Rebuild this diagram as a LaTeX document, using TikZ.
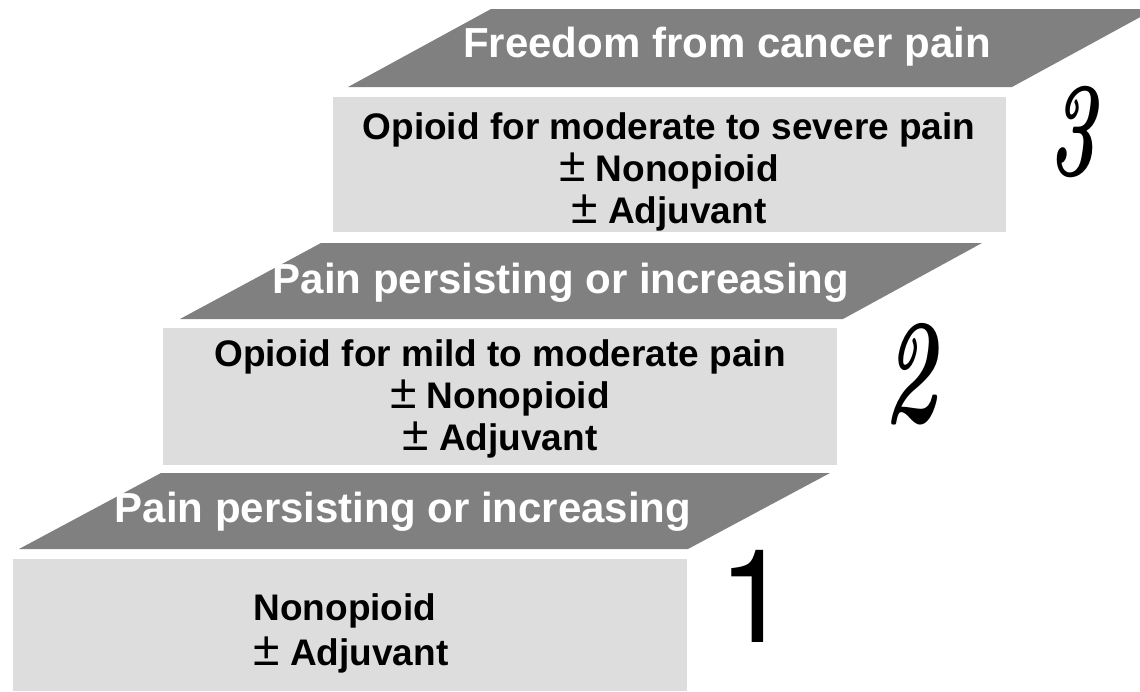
\documentclass[tikz,border=0pt]{standalone}
\usepackage{fontspec}
\setmainfont{Liberation Sans}
\newfontfamily\numsans{TeX Gyre Heros}
\newfontfamily\numital{Latin Modern Roman}
\definecolor{risergray}{HTML}{DDDDDD}
\definecolor{treadgray}{HTML}{808080}
\newcommand{\plusminus}{\scalebox{1.3}{\mdseries ±}}
\begin{document}
\begin{tikzpicture}[x=1pt,y=-1pt,
  riser/.style={fill=risergray, draw=none},
  tread/.style={fill=treadgray, draw=none},
  treadtext/.style={text=white, font=\fontsize{42}{50}\selectfont\bfseries, anchor=base, inner sep=0pt},
  boxtext/.style={text=black, font=\fontsize{37}{42}\selectfont\bfseries, anchor=base, inner sep=0pt},
  stepnum/.style={text=black, anchor=base, inner sep=0pt},
  ]
\useasboundingbox (0,0) rectangle (1140,691);
\clip (0,0) rectangle (1140,691);
% step 1
\fill[riser] (13,559) rectangle (687,691);
\fill[tread] (19,549) -- (688,549) -- (830,473) -- (161,473) -- cycle;
% step 2
\fill[riser] (163,328) rectangle (837,465);
\fill[tread] (180,319) -- (843,319) -- (982,243) -- (321,243) -- cycle;
% step 3
\fill[riser] (333,97) rectangle (1006,232);
\fill[tread] (348,87) -- (1012,87) -- (1155,9) -- (491,9) -- cycle;
% tread texts
\node[treadtext] (t3) at (727,57) {Freedom from cancer pain};
\node[treadtext] (t2) at (561,293) {Pain persisting or increasing};
\node[treadtext] (t1) at (403,522) {Pain persisting or increasing};
% riser texts
\node[boxtext] (b3a) at (669,139) {Opioid for moderate to severe pain};
\node[boxtext] (b3b) at (669,181) {\plusminus\ Nonopioid};
\node[boxtext] (b3c) at (669,223) {\plusminus\ Adjuvant};
\node[boxtext] (b2a) at (500,366) {Opioid for mild to moderate pain};
\node[boxtext] (b2b) at (500,408) {\plusminus\ Nonopioid};
\node[boxtext] (b2c) at (500,450) {\plusminus\ Adjuvant};
\node[boxtext] (b1a) at (345,620) {Nonopioid};
\node[boxtext] (b1b) at (351,665) {\plusminus\ Adjuvant};
% step numbers
\node[stepnum] (n1) at (755,642) {\numsans\fontsize{130}{130}\selectfont 1};
\node[stepnum] (n2) at (910,422) {\scalebox{0.6}[1]{\numital\bfseries\itshape\fontsize{150}{150}\selectfont 2}};
\node[stepnum] (n3) at (1072,175) {\scalebox{0.6}[1]{\numital\bfseries\itshape\fontsize{135}{135}\selectfont 3}};
\end{tikzpicture}
\end{document}
